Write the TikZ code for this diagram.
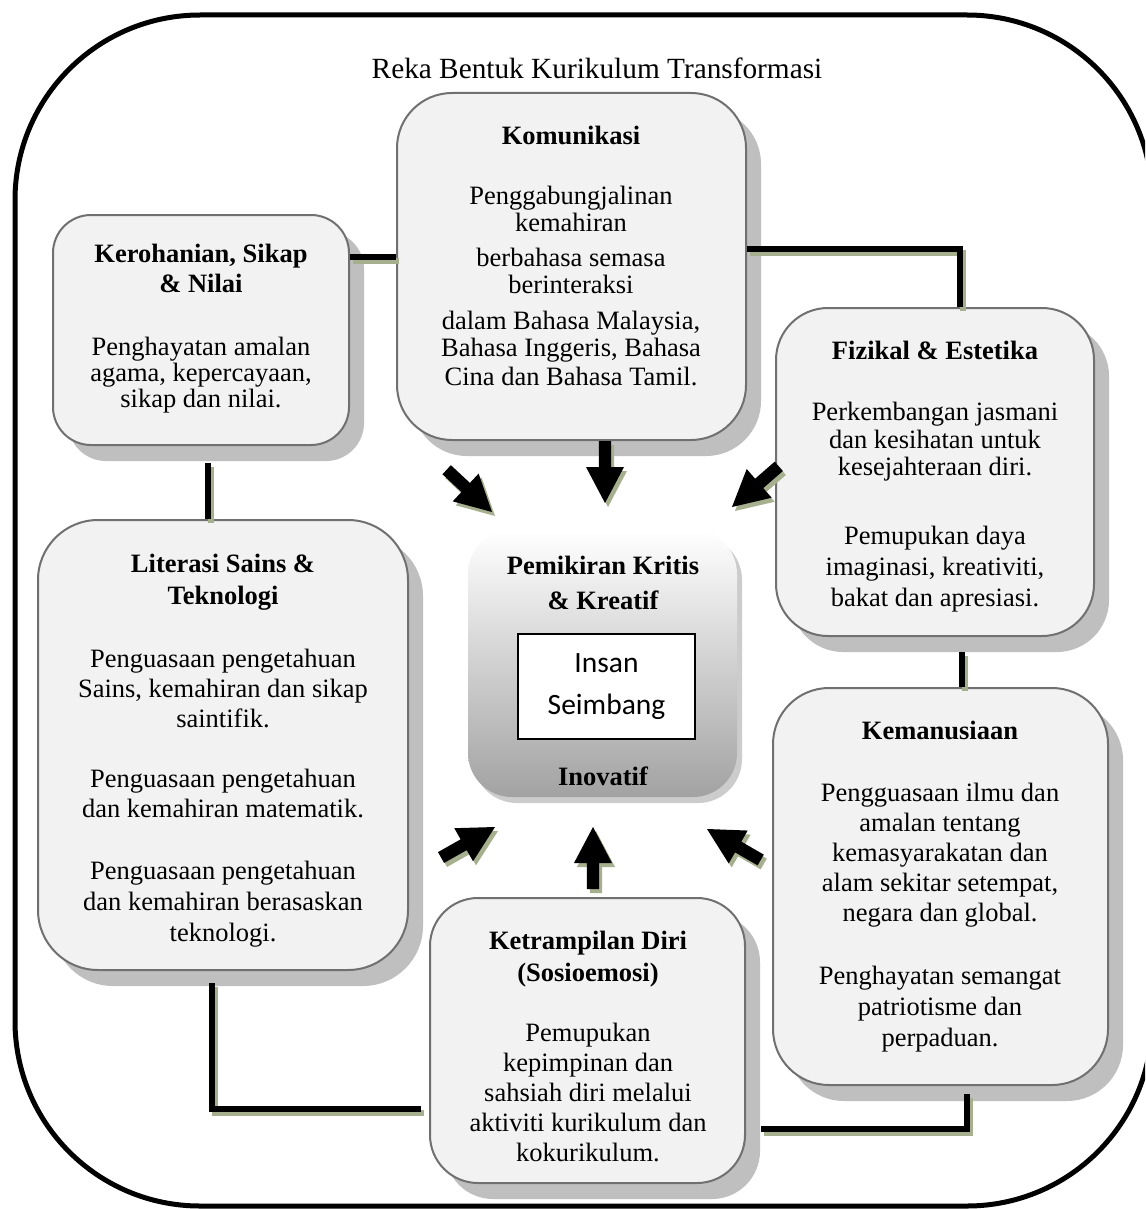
\documentclass[tikz,border=0pt]{standalone}
\usepackage{fontspec}
\setmainfont{Liberation Serif}
\newfontfamily\calfont{Carlito}
\usetikzlibrary{shadows}
\definecolor{boxfill}{HTML}{F2F2F2}
\definecolor{bordergray}{HTML}{707070}
\definecolor{shadowgray}{HTML}{BFBFBF}
\definecolor{lineshadow}{RGB}{166,176,142}
\definecolor{centerbot}{HTML}{A2A2A2}
\newcommand\blockarr[3]{%
  \fill[lineshadow, shift={(#1+3,-#2-4)}, rotate=#3] (0,0) -- (-36,19) -- (-36,6.2) -- (-62,6.2) -- (-62,-6.2) -- (-36,-6.2) -- (-36,-19) -- cycle;
  \fill[black, shift={(#1,-#2)}, rotate=#3] (0,0) -- (-36,19) -- (-36,6.2) -- (-62,6.2) -- (-62,-6.2) -- (-36,-6.2) -- (-36,-19) -- cycle;}
\tikzset{
  box/.style={draw=bordergray, line width=2pt, fill=boxfill, inner sep=0pt,
    drop shadow={shadow xshift=15pt, shadow yshift=-16pt, fill=shadowgray, opacity=1}},
  conn/.style={line width=5.5pt, line join=miter, preaction={draw=lineshadow, line width=5.5pt, transform canvas={shift={(3pt,-4pt)}}}},
  txt/.style={align=center, inner sep=0pt, anchor=north, font=\fontsize{26.5}{#1}\selectfont},
  hd/.style={align=center, inner sep=0pt, anchor=north, font=\fontsize{26.5}{#1}\selectfont\bfseries}
}
\begin{document}
\begin{tikzpicture}[x=1pt,y=1pt]
\useasboundingbox (0,0) rectangle (1145,-1209);
\clip (0,0) rectangle (1145,-1209);
\fill[white] (0,0) rectangle (1145,-1209);
% outer frame
\coordinate (frameNW) at (15,-15);
\coordinate (frameSE) at (1152,-1206);
\draw[line width=5pt, rounded corners=185pt] (frameNW) rectangle (frameSE);
\node[align=center, inner sep=0pt, font=\fontsize{29.3}{34}\selectfont] (title) at (597,-68) {Reka Bentuk Kurikulum Transformasi};
% boxes
\node[box, rounded corners=38pt, minimum width=296pt, minimum height=230pt] (kero) at (201,-330) {};
\node[box, rounded corners=55pt, minimum width=349pt, minimum height=347pt] (komu) at (571.5,-266.5) {};
\node[box, rounded corners=52pt, minimum width=318pt, minimum height=328pt] (fiz) at (935,-472) {};
\node[box, rounded corners=60pt, minimum width=370pt, minimum height=450pt] (lit) at (223,-745) {};
\node[box, rounded corners=56pt, minimum width=335pt, minimum height=397pt] (kem) at (940.5,-886.5) {};
\node[box, rounded corners=48pt, minimum width=315pt, minimum height=285pt] (ket) at (587.5,-1040.5) {};
\node[rounded corners=44pt, minimum width=269pt, minimum height=267pt, inner sep=0pt,
  top color=white, bottom color=centerbot,
  drop shadow={shadow xshift=5pt, shadow yshift=-6pt, fill=shadowgray!80, opacity=1}] (ctr) at (602.5,-663.5) {};
\node[draw=black, line width=1.2pt, fill=white, minimum width=177pt, minimum height=105pt, align=center, inner sep=0pt,
  font=\calfont\fontsize{29.5}{42}\selectfont] (insan) at (606.5,-686.5) {Insan\\Seimbang};
% connectors
\draw[conn] (kero.east |- 0,-257) -- (komu.west |- 0,-257);
\draw[conn] (komu.east |- 0,-249) -| ([xshift=25pt]fiz.north);
\draw[conn] ([xshift=7pt,yshift=-17pt]kero.south) -- ([xshift=-15pt]lit.north);
\draw[conn] ([xshift=27pt,yshift=-15pt]fiz.south) -- ([xshift=21.5pt]kem.north);
\draw[conn] ([xshift=-11pt,yshift=-12pt]lit.south) |- ([xshift=-8pt]ket.west |- 0,-1109);
\draw[conn] ([xshift=15pt]ket.east |- 0,-1129) -| ([xshift=26.5pt,yshift=-8pt]kem.south);
% block arrows
\blockarr{492}{512}{-43}
\blockarr{605}{503}{-90}
\blockarr{732}{507}{-139}
\blockarr{495}{827}{29.5}
\blockarr{593}{827}{90}
\blockarr{707}{829}{150}
% texts
\node[hd=30] (keroH) at (201,-244) {Kerohanian, Sikap\\\& Nilai};
\node[txt=26] (keroB) at (201,-337) {Penghayatan amalan\\agama, kepercayaan,\\sikap dan nilai.};
\node[hd=30] (komuH) at (571,-126) {Komunikasi};
\node[txt=27] (komuB) at (571,-186) {Penggabungjalinan\\kemahiran\\[8pt]berbahasa semasa\\berinteraksi\\[9pt]dalam Bahasa Malaysia,\\Bahasa Inggeris, Bahasa\\[2pt]Cina dan Bahasa Tamil.};
\node[hd=30] (fizH) at (935,-341) {Fizikal \& Estetika};
\node[txt=27.5] (fizB1) at (935,-402) {Perkembangan jasmani\\dan kesihatan untuk\\kesejahteraan diri.};
\node[txt=31] (fizB2) at (935,-526) {Pemupukan daya\\imaginasi, kreativiti,\\bakat dan apresiasi.};
\node[hd=32] (litH) at (223,-554) {Literasi Sains \&\\Teknologi};
\node[txt=30] (litB1) at (223,-649) {Penguasaan pengetahuan\\Sains, kemahiran dan sikap\\saintifik.};
\node[txt=30] (litB2) at (223,-769) {Penguasaan pengetahuan\\dan kemahiran matematik.};
\node[txt=31] (litB3) at (223,-861) {Penguasaan pengetahuan\\dan kemahiran berasaskan\\teknologi.};
\node[hd=35] (ctrH) at (603,-556) {Pemikiran Kritis\\\& Kreatif};
\node[hd=30] (ctrI) at (603,-767) {Inovatif};
\node[hd=30] (kemH) at (940,-721) {Kemanusiaan};
\node[txt=30] (kemB1) at (940,-783) {Pengguasaan ilmu dan\\amalan tentang\\kemasyarakatan dan\\alam sekitar setempat,\\negara dan global.};
\node[txt=31] (kemB2) at (940,-966) {Penghayatan semangat\\patriotisme dan\\perpaduan.};
\node[hd=32] (ketH) at (588,-931) {Ketrampilan Diri\\(Sosioemosi)};
\node[txt=30] (ketB) at (588,-1023) {Pemupukan\\kepimpinan dan\\sahsiah diri melalui\\aktiviti kurikulum dan\\kokurikulum.};
\end{tikzpicture}
\end{document}
